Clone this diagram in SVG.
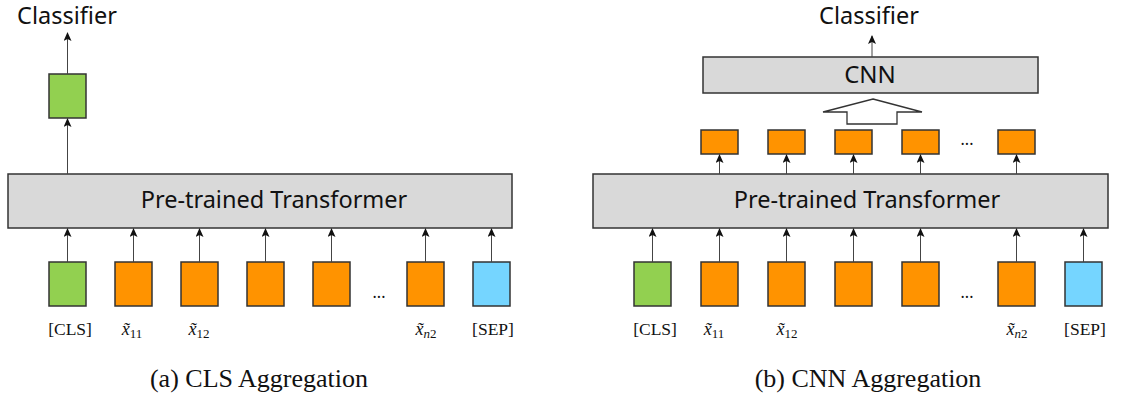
<svg xmlns="http://www.w3.org/2000/svg" width="1131" height="396" viewBox="0 0 1131 396">
<style>
.sans{font-family:"Noto Sans","Open Sans","DejaVu Sans",sans-serif;fill:#111}
.serif{font-family:"Liberation Serif","Times New Roman",serif;fill:#111}
.box{stroke:#333;stroke-width:1.5}
.gray{fill:#D9D9D9}
.green{fill:#92D050}
.orange{fill:#FF9300}
.blue{fill:#75D5FF}
.conn{stroke:#444;stroke-width:1;fill:none}
.lbl{font-size:17.5px}
.xv{font-style:italic;font-size:18px}
.sub{font-size:13px}
</style>
<defs>
<marker id="ah" viewBox="0 0 8 10" refX="4" refY="1" markerWidth="8" markerHeight="10" markerUnits="userSpaceOnUse" orient="0">
<path d="M0,9 L4,0 L8,9 L4,7 Z" fill="#111"/>
</marker>
</defs>
<rect width="1131" height="396" fill="#fff"/>

<!-- Left panel -->
<g id="left-classifier"><text class="sans" x="67" y="24" font-size="23.5" text-anchor="middle">Classifier</text></g>
<g id="left-cls-out"><rect class="box green" x="49" y="74" width="37" height="44"/></g>
<g id="left-transformer"><rect class="box gray" x="8" y="174" width="504" height="54"/>
<text class="sans" x="274" y="208" font-size="23.5" text-anchor="middle">Pre-trained Transformer</text></g>
<g id="left-tokens">
<rect class="box green" x="49" y="262" width="37" height="44"/>
<rect class="box orange" x="115" y="262" width="37" height="44"/>
<rect class="box orange" x="181" y="262" width="37" height="44"/>
<rect class="box orange" x="247" y="262" width="37" height="44"/>
<rect class="box orange" x="313" y="262" width="37" height="44"/>
<text class="sans" x="379" y="298" font-size="16" text-anchor="middle">...</text>
<rect class="box orange" x="407" y="262" width="37" height="44"/>
<rect class="box blue" x="473" y="262" width="37" height="44"/>
</g>
<g id="left-labels">
<text class="serif lbl" x="70" y="335" text-anchor="middle">[CLS]</text>
<text class="serif lbl" x="132" y="335" text-anchor="middle"><tspan class="xv">x̃</tspan><tspan class="sub" dy="3">11</tspan></text>
<text class="serif lbl" x="199" y="335" text-anchor="middle"><tspan class="xv">x̃</tspan><tspan class="sub" dy="3">12</tspan></text>
<text class="serif lbl" x="426" y="335" text-anchor="middle"><tspan class="xv">x̃</tspan><tspan class="sub" dy="3" font-style="italic">n</tspan><tspan class="sub">2</tspan></text>
<text class="serif lbl" x="493" y="335" text-anchor="middle">[SEP]</text>
</g>
<text class="serif" x="259" y="387" font-size="26" text-anchor="middle">(a) CLS Aggregation</text>

<!-- Right panel -->
<g id="right-classifier"><text class="sans" x="869" y="24" font-size="23.5" text-anchor="middle">Classifier</text></g>
<g id="right-cnn"><rect class="box gray" x="703" y="57" width="335" height="36"/>
<text class="sans" x="870" y="83" font-size="24" text-anchor="middle">CNN</text></g>
<g id="right-bigarrow"><path d="M873,99 L922,112 L897,112 L897,124 L847,124 L847,112 L823,112 Z" fill="#fff" stroke="#333" stroke-width="1.3"/></g>
<g id="right-features">
<rect class="box orange" x="701" y="130" width="37" height="24"/>
<rect class="box orange" x="768" y="130" width="37" height="24"/>
<rect class="box orange" x="835" y="130" width="37" height="24"/>
<rect class="box orange" x="902" y="130" width="37" height="24"/>
<text class="sans" x="967" y="145" font-size="16" text-anchor="middle">...</text>
<rect class="box orange" x="998" y="130" width="37" height="24"/>
</g>
<g id="right-transformer"><rect class="box gray" x="593" y="174" width="515" height="54"/>
<text class="sans" x="867" y="208" font-size="23.5" text-anchor="middle">Pre-trained Transformer</text></g>
<g id="right-tokens">
<rect class="box green" x="634" y="262" width="37" height="44"/>
<rect class="box orange" x="701" y="262" width="37" height="44"/>
<rect class="box orange" x="768" y="262" width="37" height="44"/>
<rect class="box orange" x="835" y="262" width="37" height="44"/>
<rect class="box orange" x="902" y="262" width="37" height="44"/>
<text class="sans" x="967" y="298" font-size="16" text-anchor="middle">...</text>
<rect class="box orange" x="998" y="262" width="37" height="44"/>
<rect class="box blue" x="1065" y="262" width="37" height="44"/>
</g>
<g id="right-labels">
<text class="serif lbl" x="655" y="335" text-anchor="middle">[CLS]</text>
<text class="serif lbl" x="714" y="335" text-anchor="middle"><tspan class="xv">x̃</tspan><tspan class="sub" dy="3">11</tspan></text>
<text class="serif lbl" x="787" y="335" text-anchor="middle"><tspan class="xv">x̃</tspan><tspan class="sub" dy="3">12</tspan></text>
<text class="serif lbl" x="1017" y="335" text-anchor="middle"><tspan class="xv">x̃</tspan><tspan class="sub" dy="3" font-style="italic">n</tspan><tspan class="sub">2</tspan></text>
<text class="serif lbl" x="1085" y="335" text-anchor="middle">[SEP]</text>
</g>
<text class="serif" x="868" y="387" font-size="26" text-anchor="middle">(b) CNN Aggregation</text>

<!-- Connectors -->
<g id="connectors" class="conn" marker-end="url(#ah)">
<line x1="67.5" y1="74" x2="67.5" y2="33"/>
<line x1="67.5" y1="174" x2="67.5" y2="119"/>
<line x1="67.5" y1="262" x2="67.5" y2="229"/>
<line x1="133.5" y1="262" x2="133.5" y2="229"/>
<line x1="199.5" y1="262" x2="199.5" y2="229"/>
<line x1="265.5" y1="262" x2="265.5" y2="229"/>
<line x1="331.5" y1="262" x2="331.5" y2="229"/>
<line x1="425.5" y1="262" x2="425.5" y2="229"/>
<line x1="491.5" y1="262" x2="491.5" y2="229"/>
<line x1="872" y1="57" x2="872" y2="36"/>
<line x1="719.5" y1="174" x2="719.5" y2="155"/>
<line x1="786.5" y1="174" x2="786.5" y2="155"/>
<line x1="853.5" y1="174" x2="853.5" y2="155"/>
<line x1="920.5" y1="174" x2="920.5" y2="155"/>
<line x1="1016.5" y1="174" x2="1016.5" y2="155"/>
<line x1="652.5" y1="262" x2="652.5" y2="229"/>
<line x1="719.5" y1="262" x2="719.5" y2="229"/>
<line x1="786.5" y1="262" x2="786.5" y2="229"/>
<line x1="853.5" y1="262" x2="853.5" y2="229"/>
<line x1="920.5" y1="262" x2="920.5" y2="229"/>
<line x1="1016.5" y1="262" x2="1016.5" y2="229"/>
<line x1="1083.5" y1="262" x2="1083.5" y2="229"/>
</g>
</svg>
